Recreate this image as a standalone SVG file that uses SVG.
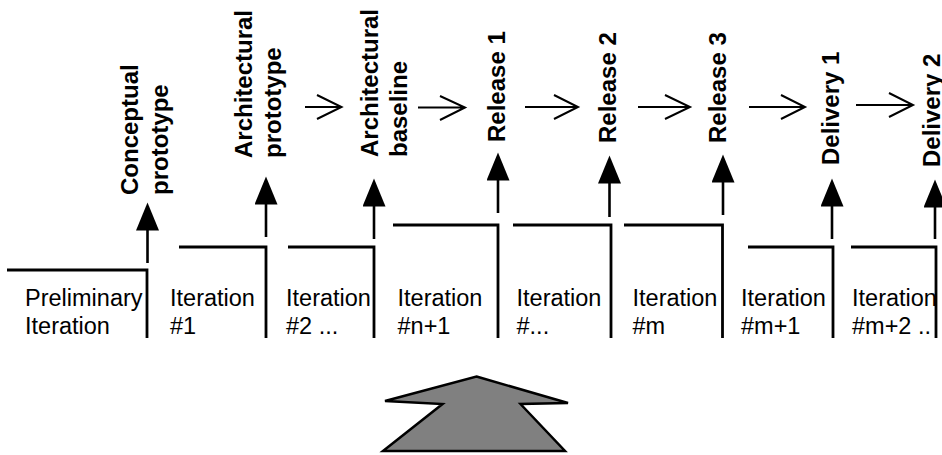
<svg xmlns="http://www.w3.org/2000/svg" width="942" height="455" viewBox="0 0 942 455">
  <style>
    .step { fill: none; stroke: #000; stroke-width: 2.8; }
    .lbl { font-family: "Liberation Sans", Arial, sans-serif; font-size: 23.5px; fill: #000; }
    .ms { font-family: "Liberation Sans", Arial, sans-serif; font-size: 24px; font-weight: bold; fill: #000; }
    .up { stroke: #000; stroke-width: 2.6; marker-end: url(#head); }
    .flow { fill: none; stroke: #000; stroke-width: 2; }
  </style>
  <defs>
    <marker id="head" markerUnits="userSpaceOnUse" markerWidth="29" markerHeight="24" refX="0.5" refY="11.5" orient="auto">
      <path d="M0,0 L28,11.5 L0,23 Z" fill="#000"/>
    </marker>
  </defs>
  <rect width="942" height="455" fill="#fff"/>

  <!-- iterations: step outline + label -->
  <g id="iter-prelim">
    <polyline class="step" points="7,270 147,270 147,338"/>
    <text class="lbl" x="25" y="306">Preliminary</text>
    <text class="lbl" x="25" y="334">Iteration</text>
  </g>
  <g id="iter-1">
    <polyline class="step" points="179,247 266,247 266,338"/>
    <text class="lbl" x="170" y="306">Iteration</text>
    <text class="lbl" x="170" y="334">#1</text>
  </g>
  <g id="iter-2">
    <polyline class="step" points="288,247 374,247 374,338"/>
    <text class="lbl" x="286" y="306">Iteration</text>
    <text class="lbl" x="286" y="334">#2 ...</text>
  </g>
  <g id="iter-n1">
    <polyline class="step" points="393,225 498,225 498,338"/>
    <text class="lbl" x="397.5" y="306">Iteration</text>
    <text class="lbl" x="397.5" y="334">#n+1</text>
  </g>
  <g id="iter-dots">
    <polyline class="step" points="513,225 611,225 611,338"/>
    <text class="lbl" x="516.5" y="306">Iteration</text>
    <text class="lbl" x="516.5" y="334">#...</text>
  </g>
  <g id="iter-m">
    <polyline class="step" points="624,225 722.5,225 722.5,338"/>
    <text class="lbl" x="632.5" y="306">Iteration</text>
    <text class="lbl" x="632.5" y="334">#m</text>
  </g>
  <g id="iter-m1">
    <polyline class="step" points="748,247 833,247 833,338"/>
    <text class="lbl" x="741" y="306">Iteration</text>
    <text class="lbl" x="741" y="334">#m+1</text>
  </g>
  <g id="iter-m2">
    <polyline class="step" points="851,247 936,247 936,338"/>
    <text class="lbl" x="852" y="306">Iteration</text>
    <text class="lbl" x="852" y="334">#m+2 ..</text>
  </g>

  <!-- milestones: rotated bold labels -->
  <g id="ms-conceptual">
    <text class="ms" transform="translate(138,195) rotate(-90)">Conceptual</text>
    <text class="ms" transform="translate(167.5,195) rotate(-90)">prototype</text>
  </g>
  <g id="ms-arch-prototype">
    <text class="ms" transform="translate(251.5,158) rotate(-90)">Architectural</text>
    <text class="ms" transform="translate(281,158) rotate(-90)">prototype</text>
  </g>
  <g id="ms-arch-baseline">
    <text class="ms" transform="translate(377.5,157) rotate(-90)">Architectural</text>
    <text class="ms" transform="translate(407,157) rotate(-90)">baseline</text>
  </g>
  <g id="ms-release1">
    <text class="ms" transform="translate(504.5,142) rotate(-90)">Release 1</text>
  </g>
  <g id="ms-release2">
    <text class="ms" transform="translate(615.5,143) rotate(-90)">Release 2</text>
  </g>
  <g id="ms-release3">
    <text class="ms" transform="translate(725.5,143) rotate(-90)">Release 3</text>
  </g>
  <g id="ms-delivery1">
    <text class="ms" transform="translate(839,165) rotate(-90)">Delivery 1</text>
  </g>
  <g id="ms-delivery2">
    <text class="ms" transform="translate(940,167) rotate(-90)">Delivery 2</text>
  </g>

  <!-- large grey block arrow -->
  <g id="block-arrow">
    <polygon points="476.5,376.5 568,403 520.5,404 565,451 383,451 442.5,404 385,401" fill="#808080" stroke="#000" stroke-width="2.5" stroke-linejoin="miter"/>
  </g>

  <!-- connectors -->
  <g id="connectors">
    <!-- iteration end -> milestone -->
    <line class="up" x1="147.5" y1="263" x2="147.5" y2="230"/>
    <line class="up" x1="266" y1="237" x2="266" y2="204"/>
    <line class="up" x1="374" y1="239" x2="374" y2="206"/>
    <line class="up" x1="498" y1="213" x2="498" y2="180"/>
    <line class="up" x1="609.5" y1="217" x2="609.5" y2="183"/>
    <line class="up" x1="723" y1="215" x2="723" y2="182"/>
    <line class="up" x1="832" y1="239" x2="832" y2="206"/>
    <line class="up" x1="935" y1="239" x2="935" y2="207"/>
    <!-- milestone -> milestone -->
    <path class="flow" d="M305,107 H341.5 M317,95 L341.5,107 L317,119"/>
    <path class="flow" d="M418,107.5 H465 M440,96 L465,107.5 L440,120"/>
    <path class="flow" d="M525,107 H578 M554,95 L578,107 L554,119"/>
    <path class="flow" d="M638,107 H690 M665,95 L690,107 L665,119"/>
    <path class="flow" d="M749,107 H805 M781,95 L805,107 L781,119"/>
    <path class="flow" d="M856,105 H913 M889,93 L913,105 L889,117"/>
  </g>
</svg>
